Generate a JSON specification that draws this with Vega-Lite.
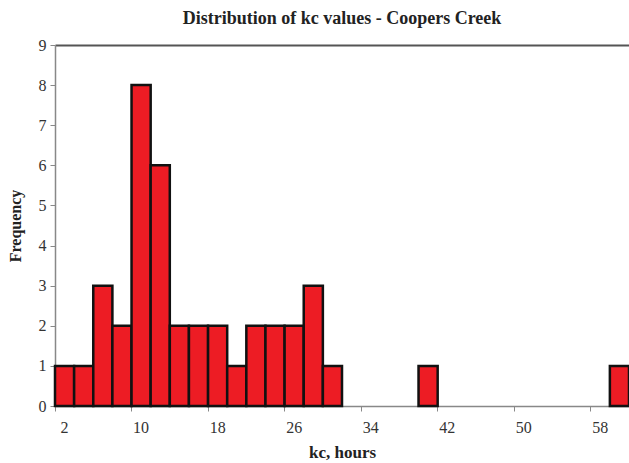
{
  "$schema": "https://vega.github.io/schema/vega-lite/v6.json",
  "autosize": "none",
  "padding": {"left": 55, "top": 45, "right": 0, "bottom": 57},
  "width": 574,
  "height": 361,
  "background": "white",
  "title": {
    "text": "Distribution of kc values - Coopers Creek",
    "font": "Liberation Serif",
    "fontSize": 18,
    "fontWeight": "bold",
    "color": "#222",
    "anchor": "middle",
    "offset": 9
  },
  "config": {
    "view": {"stroke": null},
    "axis": {"labelFont": "Liberation Serif", "labelFontSize": 16}
  },
  "data": {
    "values": [
      {"k": 2, "count": 1}, {"k": 4, "count": 1}, {"k": 6, "count": 3}, {"k": 8, "count": 2},
      {"k": 10, "count": 8}, {"k": 12, "count": 6}, {"k": 14, "count": 2}, {"k": 16, "count": 2},
      {"k": 18, "count": 2}, {"k": 20, "count": 1}, {"k": 22, "count": 2}, {"k": 24, "count": 2},
      {"k": 26, "count": 2}, {"k": 28, "count": 3}, {"k": 30, "count": 1}, {"k": 40, "count": 1},
      {"k": 60, "count": 1}
    ]
  },
  "mark": {"type": "bar", "fill": "#ED1C24", "stroke": "#111", "strokeWidth": 2.5},
  "encoding": {
    "x": {
      "field": "k",
      "type": "ordinal",
      "scale": {
        "domain": [2,4,6,8,10,12,14,16,18,20,22,24,26,28,30,32,34,36,38,40,42,44,46,48,50,52,54,56,58,60],
        "paddingInner": 0,
        "paddingOuter": 0
      },
      "axis": {
        "title": "kc, hours",
        "titleFont": "Liberation Serif",
        "titleColor": "#222",
        "titleFontSize": 17,
        "titleFontWeight": "bold",
        "titlePadding": 9,
        "values": [2,10,18,26,34,42,50,58],
        "bandPosition": 0,
        "labelAngle": 0,
        "labelColor": "#333",
        "labelPadding": 8,
        "domainColor": "#888",
        "domainWidth": 1.5,
        "tickColor": "#888",
        "tickSize": 5,
        "grid": false
      }
    },
    "y": {
      "field": "count",
      "type": "quantitative",
      "scale": {"domain": [0, 9], "nice": false},
      "axis": {
        "title": "Frequency",
        "titleFont": "Liberation Serif",
        "titleColor": "#222",
        "titleFontSize": 16,
        "titleFontWeight": "bold",
        "titlePadding": 15,
        "values": [0,1,2,3,4,5,6,7,8,9],
        "labelColor": "#333",
        "labelPadding": 4,
        "domainColor": "#888",
        "domainWidth": 1.5,
        "tickColor": "#888",
        "tickSize": 5,
        "grid": true,
        "gridColor": "#555",
        "gridWidth": 2,
        "gridOpacity": {"condition": {"test": "datum.value == 9", "value": 1}, "value": 0}
      }
    }
  }
}
